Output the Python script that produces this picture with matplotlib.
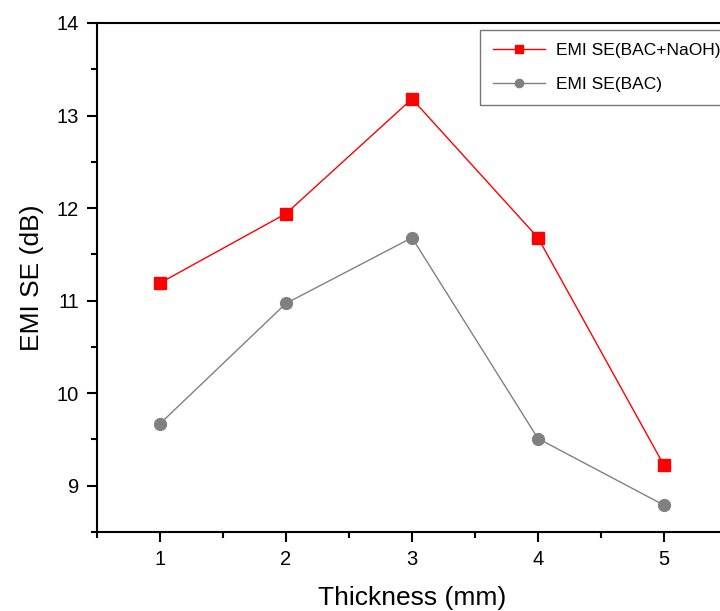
import matplotlib.pyplot as plt
from matplotlib.ticker import MultipleLocator

plt.rcParams['font.family'] = ['Liberation Sans', 'DejaVu Sans']

thickness = [1, 2, 3, 4, 5]
se_naoh = [11.19, 11.94, 13.18, 11.68, 9.22]
se_bac = [9.67, 10.97, 11.68, 9.51, 8.79]

fig = plt.figure(figsize=(7.2, 6.11), dpi=100)
ax = fig.add_axes([0.1347, 0.1293, 0.875, 0.8331])

ax.plot(thickness, se_naoh, '-s', color='#ff0000', lw=1, ms=8,
        label='EMI SE(BAC+NaOH)')
ax.plot(thickness, se_bac, '-o', color='#808080', lw=1, ms=8.5,
        label='EMI SE(BAC)')

ax.set_xlim(0.5, 5.5)
ax.set_ylim(8.5, 14)
ax.xaxis.set_major_locator(MultipleLocator(1))
ax.xaxis.set_minor_locator(MultipleLocator(0.5))
ax.yaxis.set_major_locator(MultipleLocator(1))
ax.yaxis.set_minor_locator(MultipleLocator(0.5))

for s in ax.spines.values():
    s.set_linewidth(1.5)
ax.tick_params(which='major', direction='out', length=7, width=1.5,
               labelsize=14.5, pad=6)
ax.tick_params(which='minor', direction='out', length=4, width=1.5)

ax.set_xlabel('Thickness (mm)', fontsize=19, labelpad=12)
ax.set_ylabel('EMI SE (dB)', fontsize=19, labelpad=9)

leg = ax.legend(loc='upper left', bbox_to_anchor=(0.608, 0.986),
                fontsize=12.5, fancybox=False, edgecolor='#555555',
                borderaxespad=0, handlelength=3.0, handletextpad=0.6,
                labelspacing=1.05, borderpad=0.75, markerscale=0.7)
leg.get_frame().set_linewidth(1)

fig.savefig('out.png', dpi=100)
